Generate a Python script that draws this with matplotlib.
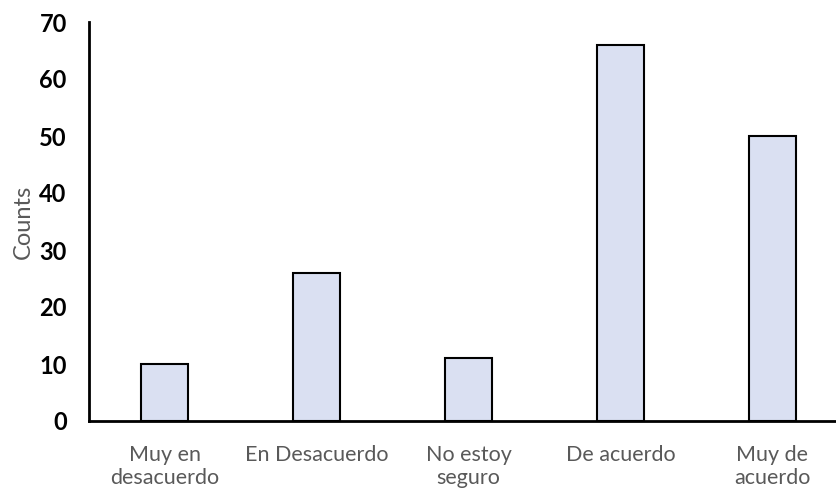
import matplotlib
matplotlib.use('Agg')
import matplotlib.pyplot as plt

categories = ["Muy en\ndesacuerdo", "En Desacuerdo", "No estoy\nseguro", "De acuerdo", "Muy de\nacuerdo"]
counts = [10, 26, 11, 66, 50]
yticks = [0, 10, 20, 30, 40, 50, 60, 70]

plt.rcParams['font.family'] = ['Lato', 'DejaVu Sans']

fig = plt.figure(figsize=(8.36, 4.92), dpi=100)
ax = fig.add_axes([89 / 836, 71 / 492, 1 - 89 / 836, 399 / 492])

x = list(range(len(categories)))
ax.bar(x, counts, width=0.31, color='#dae0f2', edgecolor='black', linewidth=1.5, zorder=3)

ax.set_xlim(-0.5, 4.42)
ax.set_ylim(0, 70)
ax.set_yticks(yticks)
ax.set_yticklabels([str(t) for t in yticks], fontsize=17, fontweight='bold')
ax.set_xticks(x)
ax.set_xticklabels(categories, fontsize=15.5, color='#595959', linespacing=1.2)
ax.tick_params(axis='both', length=0)
ax.tick_params(axis='x', pad=17)
ax.tick_params(axis='y', pad=16)

for s in ['top', 'right']:
    ax.spines[s].set_visible(False)
ax.spines['left'].set_linewidth(2)
ax.spines['bottom'].set_linewidth(2)

ax.set_ylabel("Counts", fontsize=17, color='#595959', labelpad=4)

fig.savefig("out.png", dpi=100)
